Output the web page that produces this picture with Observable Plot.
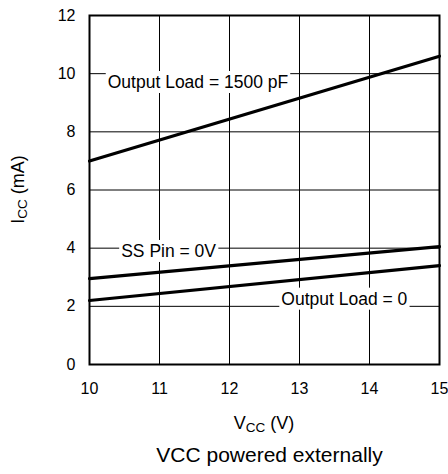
<!DOCTYPE html>
<html><head><meta charset="utf-8">
<script src="https://cdn.jsdelivr.net/npm/d3@7"></script>
<script src="https://cdn.jsdelivr.net/npm/@observablehq/plot@0.6"></script>
<style>
body{margin:0;background:#fff;font-family:"Liberation Sans",Arial,sans-serif;}
#caption{font-size:21px;padding-left:100px;padding-right:9px;text-align:center;margin-top:7px;color:#000;line-height:25px;}
</style></head><body>
<div id="chart"></div>
<div id="caption">VCC powered externally</div>
<script>
const vcc = [10, 15];
const icc1500pF = [7.0, 10.6];
const iccSSPin0V = [2.95, 4.05];
const iccLoad0 = [2.2, 3.4];
const seriesNames = ["Output Load = 1500 pF", "SS Pin = 0V", "Output Load = 0"];
const xTicks = [10, 11, 12, 13, 14, 15];
const yTicks = [0, 2, 4, 6, 8, 10, 12];
const labelX = [11.55, 11.13, 13.64];
const labelY = [9.7, 3.89, 2.25];

const rows = [];
[icc1500pF, iccSSPin0V, iccLoad0].forEach((vals, i) =>
  vals.forEach((v, j) => rows.push({series: seriesNames[i], vcc: vcc[j], icc: v})));
const labels = seriesNames.map((s, i) => ({text: s, x: labelX[i], y: labelY[i]}));

const font = '"Liberation Sans", Arial, sans-serif';
const plot = Plot.plot({
  width: 448, height: 435,
  marginLeft: 89, marginRight: 9, marginTop: 15, marginBottom: 71,
  style: {fontFamily: font, fontSize: "16px", color: "#000", background: "#fff"},
  x: {domain: [10, 15], ticks: xTicks, tickFormat: d3.format("d"), tickSize: 0, tickPadding: 18, label: null},
  y: {domain: [0, 12], ticks: yTicks, tickFormat: d3.format("d"), tickSize: 0, tickPadding: 14, label: null},
  marks: [
    Plot.ruleX(xTicks, {stroke: "#000", strokeWidth: 1}),
    Plot.ruleY(yTicks, {stroke: "#000", strokeWidth: 1}),
    Plot.text(labels, {x: "x", y: "y", text: "text", fontSize: 17.5, fill: "#000", textAnchor: "middle", lineAnchor: "middle"}),
    Plot.line(rows, {x: "vcc", y: "icc", z: "series", stroke: "#000", strokeWidth: 3.2}),
    Plot.frame({stroke: "#000", strokeWidth: 2})
  ]
});
document.getElementById("chart").append(plot);

// white boxes behind curve labels
d3.select(plot).selectAll('g[aria-label="text"] text').each(function() {
  const b = this.getBBox();
  const r = document.createElementNS("http://www.w3.org/2000/svg", "rect");
  r.setAttribute("x", b.x - 2);
  r.setAttribute("y", b.y - 1);
  r.setAttribute("width", b.width + 4);
  r.setAttribute("height", b.height + 2);
  r.setAttribute("fill", "#fff");
  const t = this.getAttribute("transform");
  if (t) r.setAttribute("transform", t);
  this.parentNode.insertBefore(r, this);
});

const sx = plot.scale("x"), sy = plot.scale("y");
const svg = d3.select(plot);
const xl = svg.append("text").attr("x", (sx.apply(10) + sx.apply(15)) / 2).attr("y", 429)
  .attr("text-anchor", "middle").attr("font-size", 18).attr("fill", "#000");
xl.append("tspan").text("V");
xl.append("tspan").attr("font-size", 13.5).attr("dy", 3).text("CC");
xl.append("tspan").attr("dy", -3).text(" (V)");

const yl = svg.append("text").attr("transform", `translate(24,${(sy.apply(0) + sy.apply(12)) / 2}) rotate(-90)`)
  .attr("text-anchor", "middle").attr("font-size", 18).attr("fill", "#000");
yl.append("tspan").text("I");
yl.append("tspan").attr("font-size", 13.5).attr("dy", 3).text("CC");
yl.append("tspan").attr("dy", -3).text(" (mA)");
</script>
</body></html>
